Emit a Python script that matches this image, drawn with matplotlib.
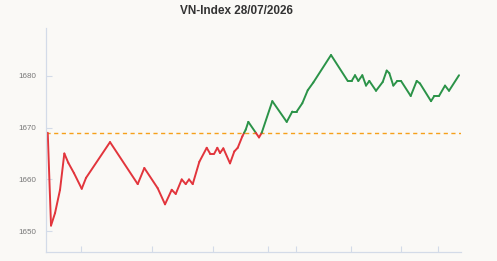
import numpy as np
import matplotlib
matplotlib.use('Agg')
import matplotlib.pyplot as plt
from matplotlib.collections import LineCollection

plt.rcParams['font.family'] = ['Liberation Sans', 'DejaVu Sans']

# Intraday series (t = position along the session)
t = [2.2, 5.5, 9.5, 14.5, 18.8, 22.8, 28.5, 36.2, 40.5, 64.5, 92.2, 98.8, 112.2,
     119.5, 126.2, 130.2, 136.2, 140.2, 143.5, 147.2, 153.8, 161.2, 164.5, 168.8,
     171.8, 174.5, 177.8, 184.5, 188.8, 192.2, 196.8, 200.2, 202.8, 213.5, 216.2,
     226.8, 241.2, 246.8, 251.2, 256.8, 262.2, 267.8, 285.5, 302.2, 306.2, 309.5,
     312.8, 316.8, 320.5, 323.8, 330.5, 337.2, 341.2, 343.8, 347.8, 351.8, 355.5,
     365.2, 371.2, 374.5, 385.5, 388.8, 393.5, 399.5, 403.5, 413.5]
index = [1669.0, 1651.1, 1653.5, 1658.0, 1665.0, 1663.2, 1661.2, 1658.2, 1660.3,
         1667.2, 1659.1, 1662.2, 1658.3, 1655.2, 1658.0, 1657.2, 1660.0, 1659.1,
         1660.0, 1659.1, 1663.4, 1666.1, 1665.0, 1665.0, 1666.1, 1665.1, 1666.0,
         1663.1, 1665.4, 1666.1, 1668.3, 1669.6, 1671.1, 1668.1, 1669.0, 1675.1,
         1671.1, 1673.1, 1673.1, 1674.7, 1677.2, 1678.7, 1684.0, 1679.0, 1679.0,
         1680.1, 1679.0, 1680.1, 1678.1, 1679.0, 1677.1, 1678.8, 1681.0, 1680.5,
         1678.1, 1679.0, 1679.0, 1676.1, 1679.0, 1678.5, 1675.1, 1676.1, 1676.1,
         1678.1, 1677.1, 1680.1]
reference = 1669.0
yticks = [1650, 1660, 1670, 1680]
xticks = [35.5, 106.5, 167.5, 222.5, 250.5, 305.5, 355.5, 392.5]

RED = '#e2353c'
GREEN = '#2b9348'


def split_at_reference(x, y, ref):
    """Insert the points where the line crosses the reference level"""
    xs, ys = [x[0]], [y[0]]
    for i in range(1, len(x)):
        a, b = y[i - 1] - ref, y[i] - ref
        if a * b < 0:
            f = a / (a - b)
            xs.append(x[i - 1] + f * (x[i] - x[i - 1]))
            ys.append(ref)
        xs.append(x[i])
        ys.append(y[i])
    return np.array(xs), np.array(ys)


xs, ys = split_at_reference(t, index, reference)
pts = np.column_stack([xs, ys])
segs = np.stack([pts[:-1], pts[1:]], axis=1)
mid = (ys[:-1] + ys[1:]) / 2
colors = [GREEN if v > reference else RED for v in mid]

fig = plt.figure(figsize=(4.97, 2.61), dpi=100, facecolor='#faf9f6')
ax = fig.add_axes([0.0916, 0.0345, 0.836, 0.858])
ax.set_facecolor('#faf9f6')

lc = LineCollection(segs, colors=colors, linewidths=1.4, capstyle='round', joinstyle='round')
ax.add_collection(lc)
ax.axhline(reference, color='#f6a01a', lw=1.0, ls=(0, (3, 2.5)), zorder=1)

ax.set_xlim(0, 415.5)
ax.set_ylim(1646, 1689.2)
ax.set_xticks(xticks)
ax.set_xticklabels([])
ax.set_yticks(yticks)
ax.set_yticklabels([str(v) for v in yticks])

for side in ['top', 'right']:
    ax.spines[side].set_visible(False)
for side in ['left', 'bottom']:
    ax.spines[side].set_color('#d3dbe8')
    ax.spines[side].set_linewidth(0.9)
ax.tick_params(axis='both', direction='in', length=4.5, width=0.8, color='#d3dbe8')
ax.tick_params(axis='y', labelsize=5.8, labelcolor='#777777', pad=6.5)

fig.text(0.4748, 0.957, 'VN-Index 28/07/2026', ha='center', va='center',
         fontsize=8.5, fontweight='bold', color='#333333')

fig.savefig('out.png', dpi=100, facecolor=fig.get_facecolor())
